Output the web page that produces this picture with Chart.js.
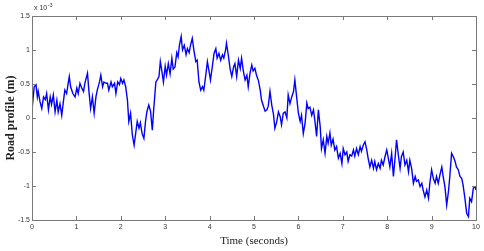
<!DOCTYPE html>
<html>
<head>
<meta charset="utf-8">
<script src="https://cdn.jsdelivr.net/npm/chart.js@4/dist/chart.umd.min.js"></script>
<style>
  html, body { margin: 0; padding: 0; background: #fff; }
  #wrap { width: 484px; height: 251px; }
</style>
</head>
<body>
<div id="wrap"><canvas id="chart1"></canvas></div>
<script>
// road profile, values in units of 1e-3 m
var timeSec = [
    0.00, 0.05, 0.09, 0.12, 0.14, 0.18, 0.22, 0.26, 0.30, 0.33, 0.37, 0.41, 0.44, 0.48, 0.52, 0.56, 0.59, 0.63, 0.67, 0.71,
    0.74, 0.78, 0.82, 0.84, 0.87, 0.92, 0.97, 1.01, 1.04, 1.08, 1.12, 1.16, 1.19, 1.25, 1.28, 1.32, 1.36, 1.40, 1.44, 1.47,
    1.52, 1.55, 1.59, 1.62, 1.67, 1.70, 1.73, 1.78, 1.81, 1.86, 1.89, 1.93, 1.97, 2.00, 2.04, 2.07, 2.11, 2.15, 2.18, 2.22,
    2.26, 2.30, 2.33, 2.37, 2.41, 2.44, 2.48, 2.52, 2.56, 2.59, 2.63, 2.67, 2.71, 2.74, 2.79, 2.82, 2.86, 2.89, 2.92, 2.96,
    3.00, 3.03, 3.07, 3.11, 3.15, 3.18, 3.22, 3.26, 3.29, 3.32, 3.36, 3.39, 3.43, 3.47, 3.50, 3.54, 3.57, 3.61, 3.65, 3.69,
    3.72, 3.76, 3.80, 3.84, 3.87, 3.91, 3.95, 3.99, 4.02, 4.06, 4.10, 4.14, 4.17, 4.21, 4.25, 4.29, 4.32, 4.36, 4.38, 4.42,
    4.46, 4.50, 4.54, 4.57, 4.61, 4.65, 4.69, 4.72, 4.76, 4.80, 4.84, 4.87, 4.91, 4.95, 4.98, 5.02, 5.06, 5.10, 5.14, 5.17,
    5.21, 5.25, 5.29, 5.32, 5.36, 5.40, 5.44, 5.47, 5.51, 5.55, 5.59, 5.62, 5.66, 5.70, 5.74, 5.77, 5.81, 5.85, 5.89, 5.92,
    5.96, 6.00, 6.04, 6.07, 6.11, 6.15, 6.19, 6.22, 6.26, 6.30, 6.34, 6.37, 6.41, 6.45, 6.49, 6.52, 6.56, 6.60, 6.64, 6.67,
    6.71, 6.74, 6.78, 6.82, 6.86, 6.90, 6.94, 6.98, 7.01, 7.05, 7.09, 7.12, 7.16, 7.20, 7.24, 7.27, 7.31, 7.35, 7.39, 7.42,
    7.46, 7.50, 7.54, 7.57, 7.61, 7.65, 7.69, 7.72, 7.76, 7.80, 7.84, 7.87, 7.91, 7.95, 7.99, 8.02, 8.06, 8.10, 8.14, 8.18,
    8.21, 8.25, 8.29, 8.32, 8.36, 8.40, 8.44, 8.48, 8.51, 8.55, 8.59, 8.63, 8.66, 8.70, 8.74, 8.78, 8.81, 8.85, 8.89, 8.93,
    8.96, 9.00, 9.04, 9.08, 9.11, 9.15, 9.19, 9.23, 9.26, 9.30, 9.34, 9.38, 9.41, 9.45, 9.49, 9.53, 9.56, 9.60, 9.64, 9.68,
    9.71, 9.75, 9.79, 9.83, 9.86, 9.90, 9.94, 9.98, 10.00
];
var roadProfile = [
    0.12, 0.46, 0.49, 0.31, 0.39, 0.24, 0.14, 0.31, 0.27, 0.36, 0.12, 0.31, 0.20, 0.34, 0.09, 0.26, 0.09, 0.21, 0.04, 0.26,
    0.41, 0.36, 0.53, 0.61, 0.46, 0.36, 0.31, 0.44, 0.36, 0.51, 0.44, 0.39, 0.51, 0.66, 0.41, 0.14, 0.31, 0.07, 0.31, 0.41,
    0.53, 0.63, 0.46, 0.53, 0.51, 0.51, 0.41, 0.53, 0.46, 0.51, 0.36, 0.53, 0.49, 0.58, 0.51, 0.56, 0.46, 0.26, -0.05, 0.07,
    -0.25, -0.40, -0.25, -0.05, -0.15, -0.07, -0.23, -0.30, -0.03, 0.10, 0.19, 0.10, -0.18, 0.12, 0.53, 0.56, 0.61, 0.83, 0.71, 0.53,
    0.76, 0.63, 0.80, 0.65, 0.88, 0.72, 0.75, 0.96, 0.90, 1.07, 1.20, 1.00, 1.07, 0.93, 1.02, 0.96, 1.07, 1.17, 0.98, 0.83,
    0.85, 0.53, 0.41, 0.46, 0.41, 0.61, 0.83, 0.68, 0.56, 0.75, 0.95, 1.02, 0.88, 0.95, 0.85, 0.93, 0.88, 1.00, 1.10, 0.93,
    0.73, 0.61, 0.75, 0.80, 0.61, 0.85, 0.73, 0.88, 0.69, 0.56, 0.63, 0.46, 0.66, 0.78, 0.69, 0.73, 0.62, 0.55, 0.41, 0.26,
    0.18, 0.10, 0.12, 0.17, 0.39, 0.19, 0.05, -0.15, -0.06, 0.09, 0.02, -0.10, 0.07, 0.09, 0.00, 0.34, 0.21, 0.31, 0.39, 0.56,
    0.31, 0.07, -0.05, 0.04, -0.23, -0.08, 0.22, 0.14, 0.16, 0.04, 0.12, -0.03, -0.27, 0.12, -0.12, -0.45, -0.32, -0.52, -0.27, -0.37,
    -0.22, -0.40, -0.31, -0.47, -0.42, -0.59, -0.52, -0.67, -0.45, -0.54, -0.50, -0.64, -0.54, -0.56, -0.47, -0.56, -0.45, -0.54, -0.42, -0.49,
    -0.40, -0.35, -0.47, -0.59, -0.72, -0.62, -0.74, -0.64, -0.76, -0.67, -0.74, -0.62, -0.69, -0.57, -0.47, -0.57, -0.72, -0.52, -0.86, -0.57,
    -0.32, -0.54, -0.74, -0.57, -0.50, -0.69, -0.62, -0.79, -0.62, -0.74, -0.96, -0.86, -0.93, -0.91, -1.01, -0.96, -1.06, -1.16, -1.06, -1.18,
    -0.96, -0.76, -0.89, -0.96, -0.86, -0.96, -0.83, -0.72, -0.86, -1.01, -1.28, -1.08, -0.86, -0.52, -0.57, -0.64, -0.72, -0.76, -0.86, -0.89,
    -0.99, -1.18, -1.40, -1.45, -1.18, -1.23, -1.03, -1.01, -1.06
];
var xTicks = [0, 1, 2, 3, 4, 5, 6, 7, 8, 9, 10];
var yTicks = [-1.5, -1, -0.5, 0, 0.5, 1, 1.5];

var points = timeSec.map(function (t, i) { return { x: t, y: roadProfile[i] }; });

var axisColor = '#7a7a7a';

// matlab style box with inward ticks + exponent label
var boxPlugin = {
    id: 'boxPlugin',
    afterDraw: function (chart) {
        var ctx = chart.ctx;
        var a = chart.chartArea;
        var xs = chart.scales.x, ys = chart.scales.y;
        ctx.save();
        ctx.strokeStyle = axisColor;
        ctx.lineWidth = 1;
        ctx.strokeRect(a.left + 0.5, a.top + 0.5, a.right - a.left, a.bottom - a.top);
        ctx.beginPath();
        xTicks.forEach(function (v) {
            var px = Math.round(xs.getPixelForValue(v)) + 0.5;
            ctx.moveTo(px, a.bottom); ctx.lineTo(px, a.bottom - 4);
            ctx.moveTo(px, a.top); ctx.lineTo(px, a.top + 4);
        });
        yTicks.forEach(function (v) {
            var py = Math.round(ys.getPixelForValue(v)) + 0.5;
            ctx.moveTo(a.left, py); ctx.lineTo(a.left + 4, py);
            ctx.moveTo(a.right, py); ctx.lineTo(a.right - 4, py);
        });
        ctx.stroke();
        ctx.fillStyle = '#333';
        ctx.textBaseline = 'alphabetic';
        ctx.font = '7px "Liberation Sans"';
        ctx.fillText('x 10', a.left + 2, a.top - 6);
        ctx.font = '5px "Liberation Sans"';
        ctx.fillText('-3', a.left + 16, a.top - 9);
        ctx.restore();
    }
};

var ctx = document.getElementById('chart1').getContext('2d');
var myChart = new Chart(ctx, {
    type: 'line',
    data: {
        datasets: [{
            label: 'Road profile',
            data: points,
            borderColor: '#0000ff',
            borderWidth: 1.4,
            pointRadius: 0,
            tension: 0,
            fill: false
        }]
    },
    options: {
        responsive: true,
        maintainAspectRatio: false,
        animation: false,
        layout: { padding: { top: 16, right: 8, left: 0, bottom: 0 } },
        plugins: {
            legend: { display: false },
            tooltip: { enabled: false }
        },
        scales: {
            x: {
                type: 'linear',
                min: 0,
                max: 10,
                afterFit: function (scale) { scale.height = 31; },
                afterBuildTicks: function (scale) {
                    scale.ticks = xTicks.map(function (v) { return { value: v }; });
                },
                grid: { display: false, drawTicks: false },
                border: { display: false },
                ticks: {
                    padding: 3,
                    color: '#333',
                    font: { family: 'Liberation Sans', size: 7 },
                    maxRotation: 0,
                    autoSkip: false
                },
                title: {
                    display: true,
                    text: 'Time (seconds)',
                    color: '#222',
                    font: { family: 'Liberation Serif', size: 11 },
                    padding: { top: 0, bottom: 3 }
                }
            },
            y: {
                min: -1.5,
                max: 1.5,
                afterFit: function (scale) { scale.width = 32; },
                afterBuildTicks: function (scale) {
                    scale.ticks = yTicks.map(function (v) { return { value: v }; });
                },
                grid: { display: false, drawTicks: false },
                border: { display: false },
                ticks: {
                    padding: 2,
                    color: '#333',
                    font: { family: 'Liberation Sans', size: 7 },
                    autoSkip: false,
                    callback: function (v) { return String(v); }
                },
                title: {
                    display: true,
                    text: 'Road profile (m)',
                    color: '#222',
                    font: { family: 'Liberation Serif', size: 12, weight: 'bold' },
                    padding: { top: 4, bottom: 0 }
                }
            }
        }
    },
    plugins: [boxPlugin]
});
</script>
</body>
</html>
